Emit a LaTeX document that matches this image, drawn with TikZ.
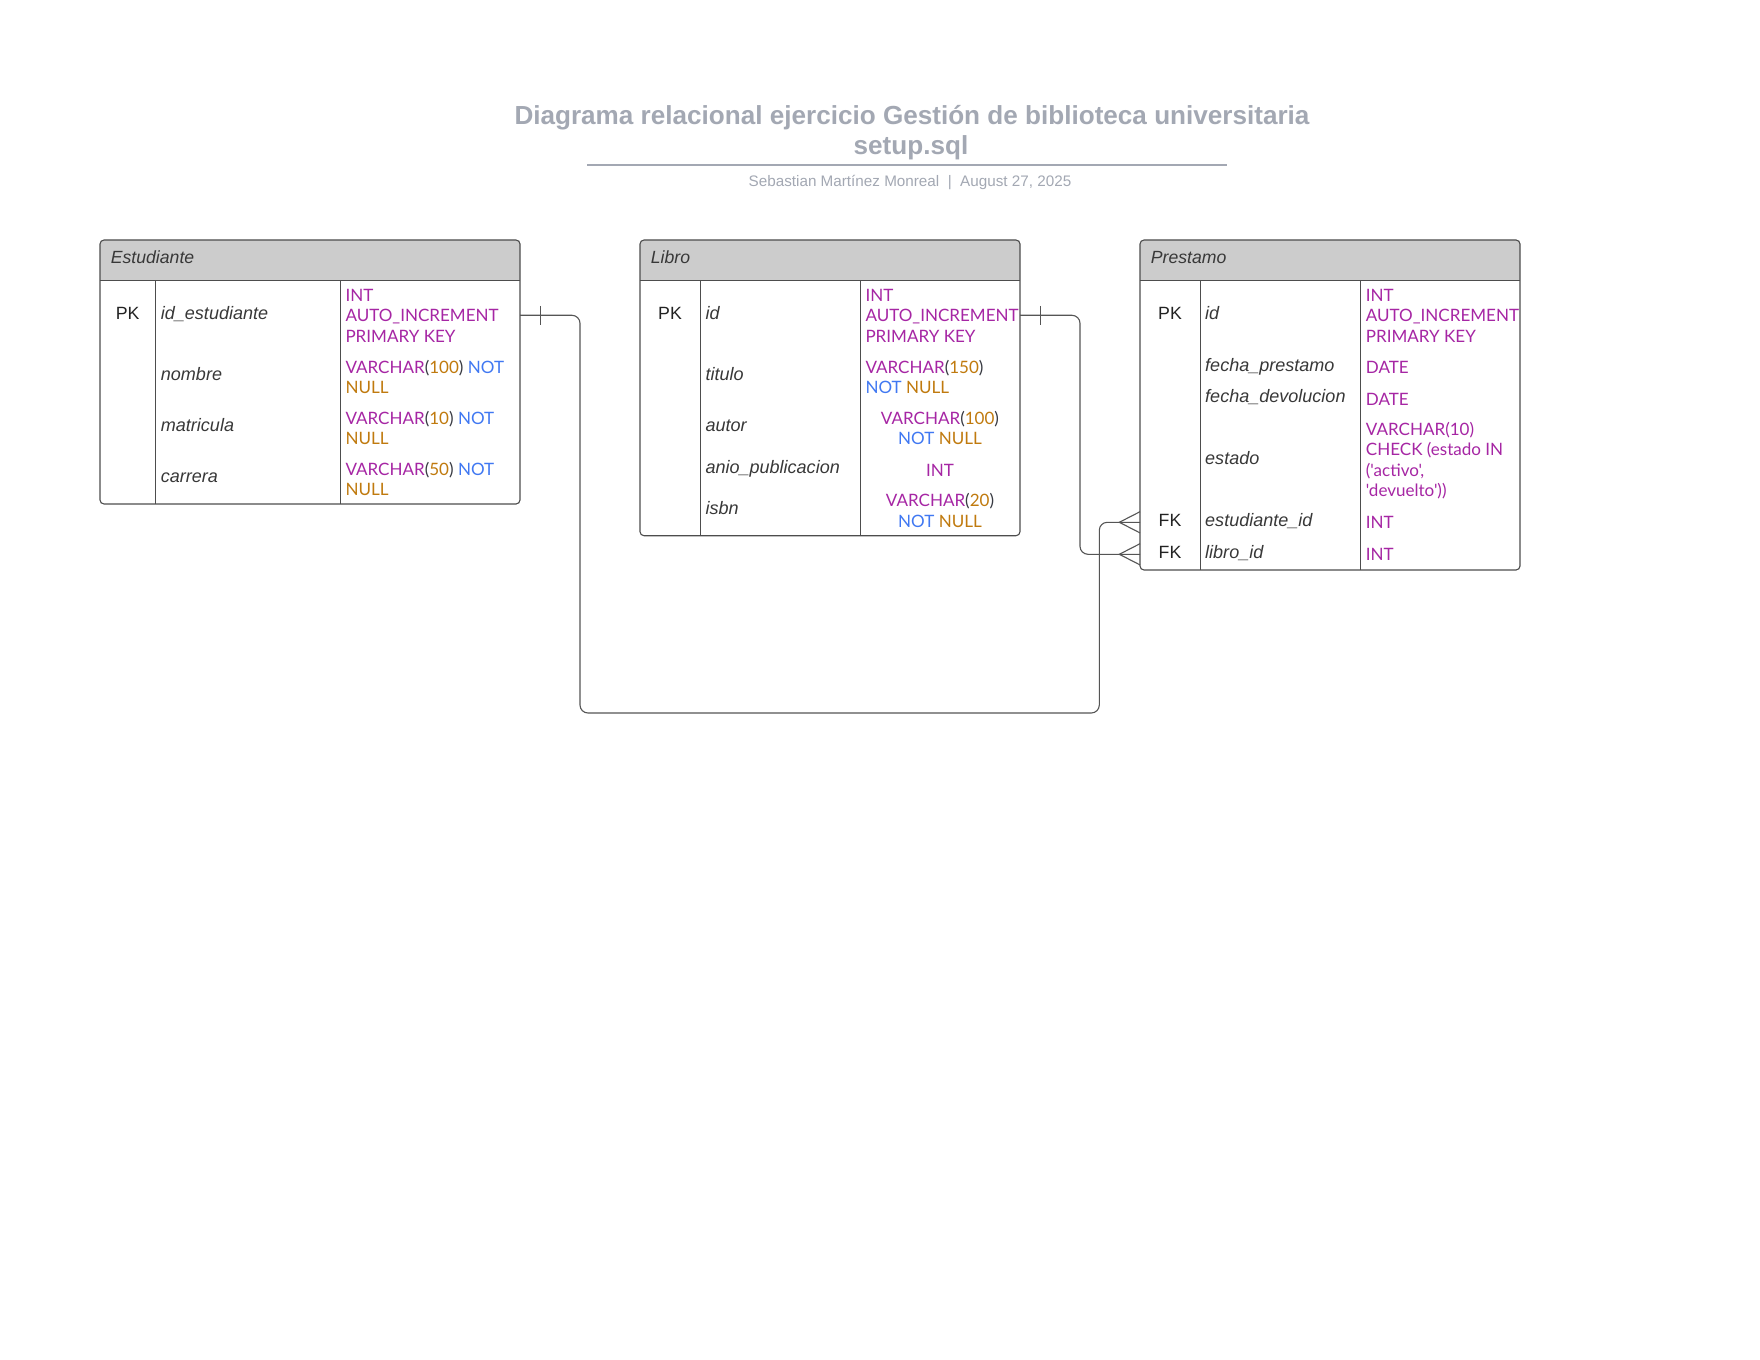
\documentclass[tikz,border=0pt]{standalone}
\usepackage{fontspec}
\setmainfont{Liberation Sans}
\newfontfamily\typefont{Lato}
\definecolor{kwc}{HTML}{A626A4}
\definecolor{numc}{HTML}{C07A0E}
\definecolor{bluec}{HTML}{4078F2}
\definecolor{parc}{HTML}{383A42}
\definecolor{hdrgray}{HTML}{CCCCCC}
\definecolor{linec}{HTML}{4D4D4D}
\definecolor{connc}{HTML}{555555}
\definecolor{txtc}{HTML}{222222}
\definecolor{titc}{HTML}{A3A8B3}
\newcommand\sqlnum[1]{\textcolor{numc}{#1}}
\newcommand\sqlblue[1]{\textcolor{bluec}{#1}}
\newcommand\sqlpar[1]{\textcolor{parc}{#1}}
\begin{document}
\begin{tikzpicture}[x=1bp,y=-1bp,
  tframe/.style={draw=linec, line width=1.1bp, rounded corners=4bp, inner sep=0pt, outer sep=0pt, anchor=north west},
  rule/.style={draw=linec, line width=1.1bp},
  keytxt/.style={anchor=base, inner sep=0pt, font=\fontsize{17.8}{20}\selectfont, text=txtc},
  hdrtxt/.style={anchor=base west, inner sep=0pt, font=\fontsize{17.7}{20}\selectfont\itshape, text=txtc!90!white},
  fldtxt/.style={anchor=base west, inner sep=0pt, font=\fontsize{18.1}{20}\selectfont\itshape, text=txtc!90!white},
  typtxt/.style={anchor=base west, inner sep=0pt, font=\typefont\fontsize{17.1}{20}\selectfont, text=kwc},
  typc/.style={typtxt, anchor=base},
  conn/.style={draw=connc, line width=1.1bp, rounded corners=8bp},
  endmark/.style={draw=connc, line width=1.1bp}
]
\fill[white] (0,0) rectangle (1760,1360);
\useasboundingbox (0,0) rectangle (1760,1360);

% ---------- title ----------
\node[anchor=base, inner sep=0pt, font=\bfseries\fontsize{26.2}{30}\selectfont, text=titc] (title1) at (912,124.3) {Diagrama relacional ejercicio Gestión de biblioteca universitaria};
\node[anchor=base, inner sep=0pt, font=\bfseries\fontsize{26.2}{30}\selectfont, text=titc] (title2) at (911,154.5) {setup.sql};
\draw[titc, line width=2bp] (587,165) -- (1227,165);
\node[anchor=base, inner sep=0pt, font=\fontsize{15.3}{17}\selectfont, text=titc] (sub) at (910,186.5) {Sebastian Martínez Monreal\ \ |\ \ August 27, 2025};

% ---------- Estudiante ----------
\fill[hdrgray] (100,280.7) [rounded corners=4bp] -- (100,240) -- (520,240) [sharp corners] -- (520,280.7) -- cycle;
\node[tframe, minimum width=420bp, minimum height=264bp] (est) at (100,240) {};
\draw[rule] (100,280.7) -- (520,280.7);
\draw[rule] (155.3,280.7) -- (155.3,504);
\draw[rule] (340.3,280.7) -- (340.3,504);
\node[hdrtxt] (est-h) at (110.7,264) {Estudiante};
\node[keytxt] (e-pk) at (127.7,319.3) {PK};
\node[fldtxt] (e-f1) at (160.7,319.3) {id\_estudiante};
\node[typtxt] (e-t1a) at (345.3,301.7) {INT};
\node[typtxt] (e-t1b) at (345.3,321.7) {AUTO\_INCREMENT};
\node[typtxt] (e-t1c) at (345.3,342.3) {PRIMARY KEY};
\node[fldtxt] (e-f2) at (160.7,380.7) {nombre};
\node[typtxt] (e-t2a) at (345.3,373.3) {VARCHAR\sqlpar{(}\sqlnum{100}\sqlpar{)} \sqlblue{NOT}};
\node[typtxt] (e-t2b) at (345.3,393.3) {\sqlnum{NULL}};
\node[fldtxt] (e-f3) at (160.7,431.7) {matricula};
\node[typtxt] (e-t3a) at (345.3,424.3) {VARCHAR\sqlpar{(}\sqlnum{10}\sqlpar{)} \sqlblue{NOT}};
\node[typtxt] (e-t3b) at (345.3,444.3) {\sqlnum{NULL}};
\node[fldtxt] (e-f4) at (160.7,482.3) {carrera};
\node[typtxt] (e-t4a) at (345.3,475.3) {VARCHAR\sqlpar{(}\sqlnum{50}\sqlpar{)} \sqlblue{NOT}};
\node[typtxt] (e-t4b) at (345.3,495.3) {\sqlnum{NULL}};

% ---------- Libro ----------
\fill[hdrgray] (640,280.7) [rounded corners=4bp] -- (640,240) -- (1020,240) [sharp corners] -- (1020,280.7) -- cycle;
\node[tframe, minimum width=380bp, minimum height=295.7bp] (lib) at (640,240) {};
\draw[rule] (640,280.7) -- (1020,280.7);
\draw[rule] (700.3,280.7) -- (700.3,535.7);
\draw[rule] (860.3,280.7) -- (860.3,535.7);
\node[hdrtxt] (lib-h) at (650.7,264) {Libro};
\node[keytxt] (l-pk) at (670,319.3) {PK};
\node[fldtxt] (l-f1) at (705.3,319.3) {id};
\node[typtxt] (l-t1a) at (865.3,301.7) {INT};
\node[typtxt] (l-t1b) at (865.3,321.7) {AUTO\_INCREMENT};
\node[typtxt] (l-t1c) at (865.3,342.3) {PRIMARY KEY};
\node[fldtxt] (l-f2) at (705.3,380.7) {titulo};
\node[typtxt] (l-t2a) at (865.3,373.3) {VARCHAR\sqlpar{(}\sqlnum{150}\sqlpar{)}};
\node[typtxt] (l-t2b) at (865.3,393.3) {\sqlblue{NOT} \sqlnum{NULL}};
\node[fldtxt] (l-f3) at (705.3,431.7) {autor};
\node[typc] (l-t3a) at (940,424.3) {VARCHAR\sqlpar{(}\sqlnum{100}\sqlpar{)}};
\node[typc] (l-t3b) at (940,444.3) {\sqlblue{NOT} \sqlnum{NULL}};
\node[fldtxt] (l-f4) at (705.3,473) {anio\_publicacion};
\node[typc] (l-t4) at (940,476) {INT};
\node[fldtxt] (l-f5) at (705.3,514.3) {isbn};
\node[typc] (l-t5a) at (940,506.7) {VARCHAR\sqlpar{(}\sqlnum{20}\sqlpar{)}};
\node[typc] (l-t5b) at (940,527.3) {\sqlblue{NOT} \sqlnum{NULL}};

% ---------- Prestamo ----------
\fill[hdrgray] (1140,280.7) [rounded corners=4bp] -- (1140,240) -- (1520,240) [sharp corners] -- (1520,280.7) -- cycle;
\node[tframe, minimum width=380bp, minimum height=330bp] (pre) at (1140,240) {};
\draw[rule] (1140,280.7) -- (1520,280.7);
\draw[rule] (1200.3,280.7) -- (1200.3,570);
\draw[rule] (1360.7,280.7) -- (1360.7,570);
\node[hdrtxt] (pre-h) at (1150.7,264) {Prestamo};
\node[keytxt] (p-pk) at (1170,319.3) {PK};
\node[fldtxt] (p-f1) at (1205,319.3) {id};
\node[typtxt] (p-t1a) at (1365.7,301.7) {INT};
\node[typtxt] (p-t1b) at (1365.7,321.7) {AUTO\_INCREMENT};
\node[typtxt] (p-t1c) at (1365.7,342.3) {PRIMARY KEY};
\node[fldtxt] (p-f2) at (1205,371.3) {fecha\_prestamo};
\node[typtxt] (p-t2) at (1365.7,373.3) {DATE};
\node[fldtxt] (p-f3) at (1205,402.7) {fecha\_devolucion};
\node[typtxt] (p-t3) at (1365.7,405) {DATE};
\node[fldtxt] (p-f4) at (1205,464.3) {estado};
\node[typtxt] (p-t4a) at (1365.7,435) {VARCHAR(10)};
\node[typtxt] (p-t4b) at (1365.7,455.5) {CHECK (estado IN};
\node[typtxt] (p-t4c) at (1365.7,476) {('activo',};
\node[typtxt] (p-t4d) at (1365.7,496.5) {'devuelto'))};
\node[keytxt] (p-fk1) at (1170,526) {FK};
\node[fldtxt] (p-f5) at (1205,526) {estudiante\_id};
\node[typtxt] (p-t5) at (1365.7,528.3) {INT};
\node[keytxt] (p-fk2) at (1170,558.3) {FK};
\node[fldtxt] (p-f6) at (1205,558.3) {libro\_id};
\node[typtxt] (p-t6) at (1365.7,560.7) {INT};

% ---------- connectors ----------
\coordinate (e-out) at (520,315.3);
\coordinate (l-out) at (1020,315.3);
\coordinate (p-in1) at (1140,522.3);
\coordinate (p-in2) at (1140,554.3);
\draw[conn] (e-out) -- (580,315.3) -- (580,713) -- (1099.3,713) -- (1099.3,522.3) -- (p-in1);
\draw[conn] (l-out) -- (1080,315.3) -- (1080,554.3) -- (p-in2);
% one marks
\draw[endmark] (540.7,306) -- (540.7,324.7);
\draw[endmark] (1040.3,306) -- (1040.3,324.7);
% crow's feet
\draw[endmark] (1140,511.7) -- (1119.3,522.3) -- (1140,532.9);
\draw[endmark] (1140,543.7) -- (1119.3,554.3) -- (1140,564.9);
\end{tikzpicture}
\end{document}
